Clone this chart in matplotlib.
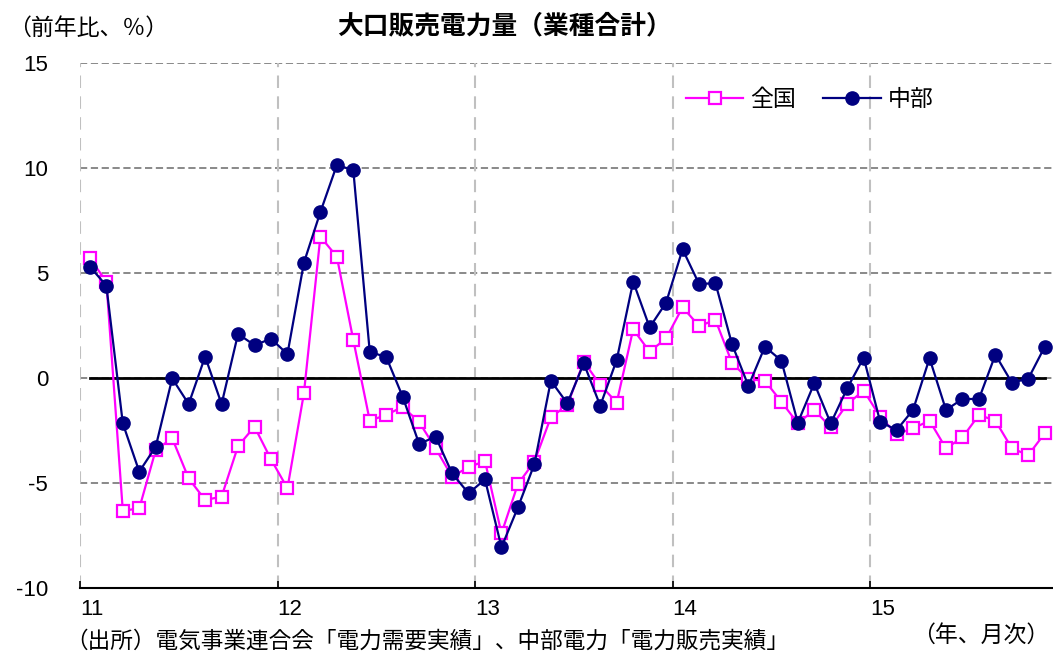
import numpy as np
import matplotlib.pyplot as plt

plt.rcParams['font.family'] = ['Liberation Sans', 'Noto Sans CJK JP', 'DejaVu Sans']
jp = ['Noto Sans CJK JP', 'DejaVu Sans']

# 前年比（%）, 2011年1月〜2015年11月
zenkoku = [5.70, 4.59, -6.32, -6.21, -3.43, -2.87, -4.78, -5.81, -5.65, -3.24, -2.32, -3.87,
           -5.25, -0.73, 6.73, 5.78, 1.81, -2.03, -1.76, -1.37, -2.10, -3.35, -4.70, -4.24,
           -3.96, -7.40, -5.05, -3.98, -1.87, -1.29, 0.78, -0.33, -1.17, 2.32, 1.25, 1.89,
           3.37, 2.48, 2.76, 0.73, -0.06, -0.13, -1.13, -2.16, -1.52, -2.35, -1.24, -0.60,
           -1.84, -2.67, -2.40, -2.03, -3.35, -2.83, -1.76, -2.03, -3.35, -3.67, -2.63]
chubu = [5.30, 4.40, -2.16, -4.46, -3.27, -0.02, -1.24, 1.02, -1.24, 2.10, 1.56, 1.87,
         1.14, 5.49, 7.90, 10.14, 9.90, 1.24, 1.00, -0.89, -3.14, -2.79, -4.54, -5.49,
         -4.83, -8.06, -6.16, -4.10, -0.13, -1.21, 0.70, -1.32, 0.86, 4.59, 2.41, 3.59,
         6.13, 4.48, 4.51, 1.62, -0.38, 1.49, 0.83, -2.13, -0.25, -2.16, -0.49, 0.97,
         -2.08, -2.48, -1.52, 0.94, -1.52, -1.00, -1.00, 1.11, -0.22, -0.03, 1.49]
year_labels = ['11', '12', '13', '14', '15']

x = np.arange(len(zenkoku))
year_pos = np.arange(len(year_labels)) * 12 - 0.6

fig = plt.figure(figsize=(10.53, 6.57), dpi=100)
ax = fig.add_axes([80 / 1053, 69 / 657, 973 / 1053, 525 / 657])

ax.set_xlim(-0.6, 58.5)
ax.set_ylim(-10, 15)

# grid: grey dashed horizontals, light dashed verticals at each year
for v in [-5, 0, 5, 10, 15]:
    ax.axhline(v, color='#808080', lw=1.3, ls=(0, (4, 2)), zorder=1)
for p in year_pos:
    ax.axvline(p, color='#c0c0c0', lw=1.5, ls=(0, (6, 4)), zorder=1)

# zero reference line
ax.plot(x, np.zeros(len(x)), color='black', lw=2, zorder=2)

ax.plot(x, zenkoku, color='#ff00ff', lw=1.6, marker='s', markersize=8.5,
        markerfacecolor='white', markeredgecolor='#ff00ff', markeredgewidth=1.6,
        label='全国', zorder=3)
ax.plot(x, chubu, color='#000080', lw=1.6, marker='o', markersize=9.5,
        markerfacecolor='#000080', markeredgecolor='#000080',
        label='中部', zorder=4)

for s in ['left', 'top', 'right']:
    ax.spines[s].set_visible(False)
ax.spines['bottom'].set_linewidth(1.5)

ax.set_yticks([-10, -5, 0, 5, 10, 15])
ax.set_yticklabels(['-10', '-5', '0', '5', '10', '15'])
ax.tick_params(axis='y', length=0, pad=23, labelsize=16)
ax.set_xticks(year_pos)
ax.set_xticklabels(year_labels)
ax.tick_params(axis='x', direction='in', length=5, width=1.2, pad=8, labelsize=16)
for lbl in ax.get_xticklabels():
    lbl.set_horizontalalignment('left')

leg = ax.legend(loc='center', bbox_to_anchor=(0.75, 0.93), ncol=2, frameon=False,
                handlelength=2.5, handletextpad=0.3, columnspacing=1.2,
                prop={'family': jp, 'size': 16.5})

fig.text(8 / 1053, 1 - 28 / 657, '（前年比、％）', family=jp, fontsize=16.5,
         ha='left', va='center')
fig.text(504 / 1053, 1 - 26 / 657, '大口販売電力量（業種合計）', family=jp, fontsize=18.5,
         fontweight='bold', ha='center', va='center')
fig.text(65 / 1053, 1 - 641 / 657,
         '（出所）電気事業連合会「電力需要実績」、中部電力「電力販売実績」',
         family=jp, fontsize=16.3, ha='left', va='center')
fig.text(912 / 1053, 1 - 635 / 657, '（年、月次）', family=jp, fontsize=16.5,
         ha='left', va='center')

fig.savefig('out.png', dpi=100)
